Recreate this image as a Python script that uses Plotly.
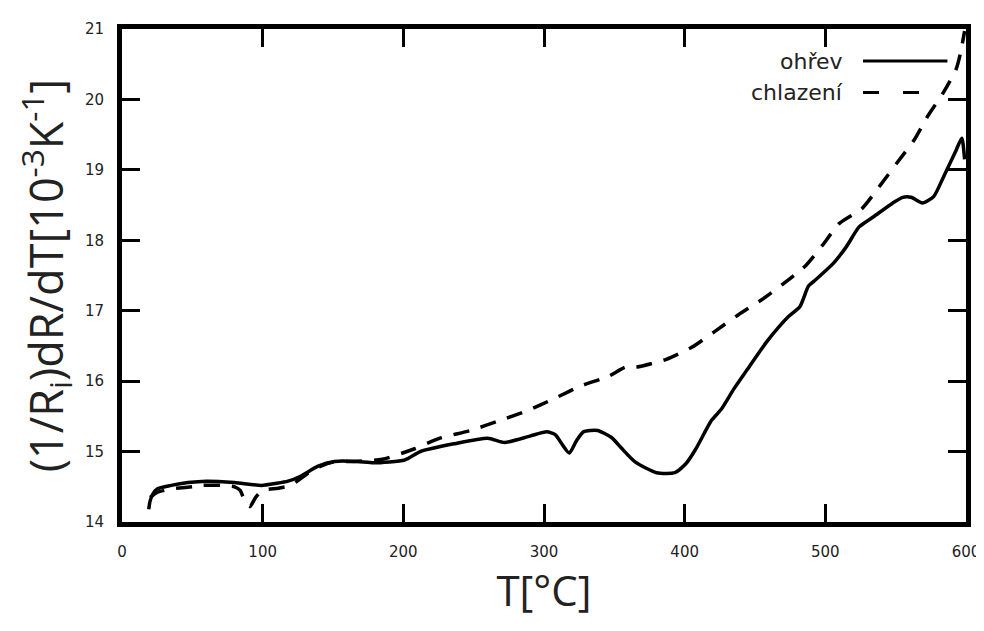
import plotly.graph_objects as go

# Heating (ohřev)
heat_T = [19, 20, 22, 25, 35, 47, 60, 80, 99, 110, 118, 127, 139, 151, 167, 179, 201, 212, 236, 260,
          272, 290, 302, 308, 313, 318, 323, 328, 338, 348, 355, 365, 380, 393, 401, 408, 419, 426,
          435, 444, 458, 467, 474, 482, 488, 492, 506, 515, 524, 534, 548, 555, 561, 569, 577, 584,
          593, 597, 599]
heat_y = [14.18, 14.3, 14.4, 14.47, 14.52, 14.56, 14.58, 14.56, 14.52, 14.55, 14.58, 14.65, 14.79,
          14.86, 14.86, 14.84, 14.88, 15.0, 15.11, 15.19, 15.13, 15.22, 15.28, 15.24, 15.1, 14.98,
          15.15, 15.28, 15.3, 15.2, 15.05, 14.85, 14.7, 14.7, 14.83, 15.04, 15.44, 15.6, 15.89, 16.15,
          16.55, 16.77, 16.92, 17.06, 17.35, 17.42, 17.68, 17.91, 18.19, 18.33, 18.53, 18.61, 18.61,
          18.53, 18.62, 18.9, 19.28, 19.45, 19.15]

# Cooling (chlazení)
cool_T = [20, 25, 35, 50, 57, 70, 80, 84, 88, 91, 95, 100, 111, 120, 132, 141, 150, 165, 185, 208,
          226, 248, 267, 288, 307, 326, 346, 358, 366, 387, 405, 421, 438, 455, 470, 486, 498, 510,
          526, 539, 551, 563, 573, 584, 593, 596, 599]
cool_y = [14.35, 14.42, 14.47, 14.5, 14.52, 14.52, 14.5, 14.45, 14.26, 14.22, 14.35, 14.45, 14.48,
          14.52, 14.69, 14.79, 14.85, 14.86, 14.89, 15.04, 15.19, 15.3, 15.43, 15.58, 15.75, 15.93,
          16.07, 16.2, 16.2, 16.31, 16.48, 16.7, 16.94, 17.16, 17.38, 17.64, 17.93, 18.24, 18.45,
          18.78, 19.1, 19.42, 19.77, 20.1, 20.43, 20.65, 20.97]

series_names = ["ohřev", "chlazení"]
x_ticks = [0, 100, 200, 300, 400, 500, 600]
y_ticks = [14, 15, 16, 17, 18, 19, 20, 21]

DASH = "16px,12px"

fig = go.Figure()
fig.add_trace(go.Scatter(x=heat_T, y=heat_y, mode="lines", name=series_names[0],
                         line=dict(color="black", width=3.5, shape="spline", smoothing=0.6)))
fig.add_trace(go.Scatter(x=cool_T, y=cool_y, mode="lines", name=series_names[1],
                         line=dict(color="black", width=3.5, dash=DASH, shape="spline", smoothing=0.6)))

tickfont = dict(family="DejaVu Sans", size=15, color="#222222")
axis_common = dict(showline=True, linewidth=5, linecolor="black", mirror="ticks",
                   ticks="inside", ticklen=18, tickwidth=3, tickcolor="black",
                   showgrid=False, zeroline=False, tickfont=tickfont)

fig.update_layout(
    width=984, height=631,
    margin=dict(l=114, r=24, t=18, b=117),
    paper_bgcolor="white", plot_bgcolor="white",
    showlegend=False,
    xaxis=dict(range=[0, 600], tickvals=x_ticks, ticklabelstandoff=12,
               title=dict(text="T[°C]", font=dict(family="Open Sans", size=42, color="#222222"), standoff=16),
               **axis_common),
    yaxis=dict(range=[14, 21], tickvals=y_ticks, ticklabelstandoff=10,
               title=dict(text="(1/R<sub>i</sub>)dR/dT[10<sup>-3</sup>K<sup>-1</sup>]",
                          font=dict(family="Open Sans", size=45, color="#222222"), standoff=9),
               **axis_common),
)

# Legend drawn gnuplot-style: text on the left, sample line on the right (paper coordinates)
legend_rows = [(0.935, "solid", 0.978), (0.871, "16px,24px", 0.97)]
for name, (ypos, dash, xend) in zip(series_names, legend_rows):
    fig.add_annotation(x=0.857, y=ypos, xref="paper", yref="paper", text=name, showarrow=False,
                       xanchor="right", yanchor="middle",
                       font=dict(family="DejaVu Sans", size=22, color="#222222"))
    fig.add_shape(type="line", xref="paper", yref="paper", x0=0.878, x1=xend, y0=ypos, y1=ypos,
                  line=dict(color="black", width=3, dash=dash))

fig.write_html("out.html")
